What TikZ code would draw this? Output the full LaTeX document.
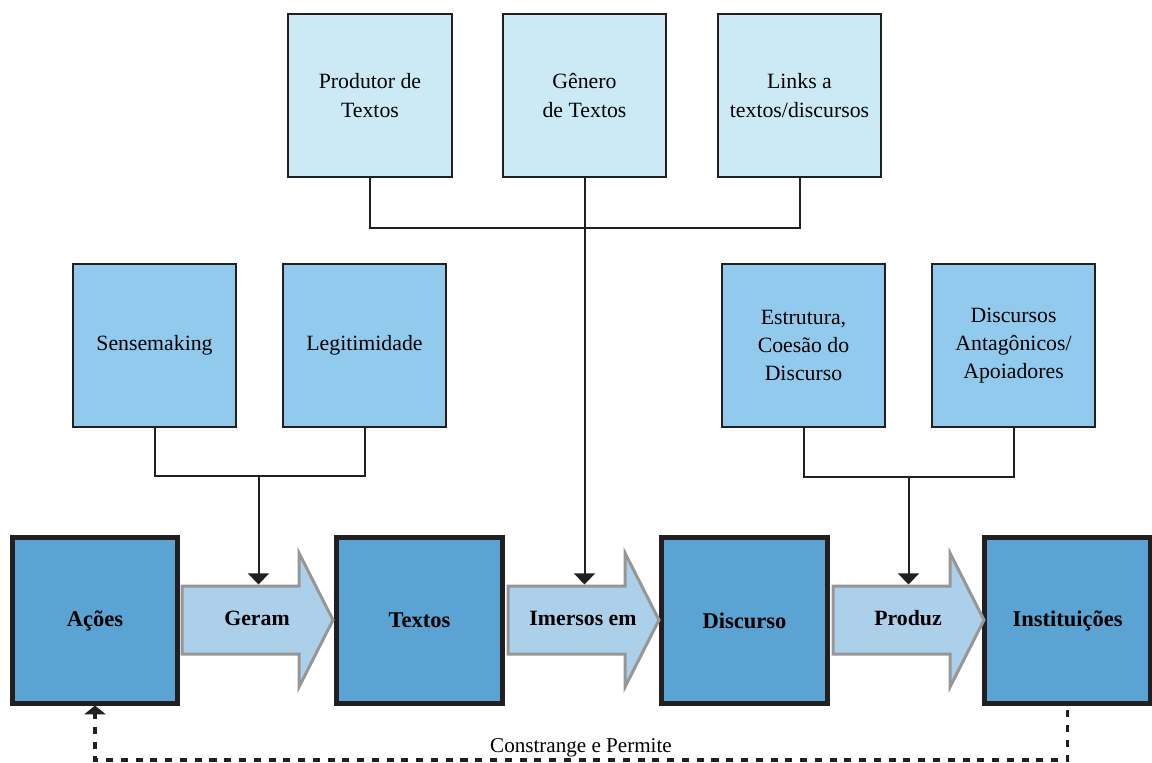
\documentclass[tikz,border=0pt]{standalone}
\usepackage{fontspec}
\setmainfont{Liberation Serif}
\usetikzlibrary{arrows.meta, positioning}
\definecolor{boxdark}{HTML}{5BA3D3}
\definecolor{boxmid}{HTML}{92CAEE}
\definecolor{boxlight}{HTML}{CCEAF5}
\definecolor{arrowfill}{HTML}{ACD0E9}
\definecolor{arrowline}{HTML}{969696}
\definecolor{ink}{HTML}{231F20}
\tikzset{%
	main box/.style={
		draw=ink,
		fill=boxdark,
		line width=0.125cm,
		minimum size=4.125cm,
		font=\fontsize{16}{19}\selectfont\bfseries
	},
	top box/.style={
		draw=ink,
		fill=boxlight,
		line width=0.05cm,
		minimum size=4.075cm,
		align=center,
		font=\fontsize{15.5}{20}\selectfont
	},
	side box/.style={
		top box,
		fill=boxmid
	},
	flow arrow/.style={
		draw=arrowline,
		fill=arrowfill,
		line width=0.075cm,
		line join=miter
	},
	flow label/.style={
		anchor=base,
		inner sep=0pt,
		font=\fontsize{15.5}{19}\selectfont\bfseries
	},
}
\begin{document}
\begin{tikzpicture}[
	x=0.025cm, y=-0.025cm,
	link/.style={draw=ink, line width=0.05cm},
	feed/.style={link, -{Triangle[width=0.525cm, length=0.28cm]}},
	feedback/.style={draw=ink, line width=0.08cm, dash pattern=on 5pt off 5.5pt,
		-{Triangle[width=0.525cm, length=0.22cm]}}
	]
	\useasboundingbox (0,0) rectangle (1152,763);

	% main chain
	\node[main box] (acoes) at (95,620.5) {Ações};
	\node[main box] (textos) at (419.5,620.5) {Textos};
	\node[main box] (discurso) at (744.5,620.5) {Discurso};
	\node[main box] (instituicoes) at (1067.5,620.5) {Instituições};

	% block arrows between the boxes
	\foreach \x/\name/\txt in {182/geram/Geram, 508/imersos/Imersos em, 833/produz/Produz}{
		\draw[flow arrow] (\x,586) -- ++(117,0) -- ++(0,-33) -- ++(34,67)
			-- ++(-34,67) -- ++(0,-33) -- ++(-117,0) -- cycle;
		\node[flow label] (\name) at (\x+75,625) {\txt};
	}

	% text features
	\node[top box] (produtor) at (370,95.5) {Produtor de\\Textos};
	\node[top box] (genero) at (584.5,95.5) {Gênero\\de Textos};
	\node[top box] (links) at (799.5,95.5) {Links a\\textos/discursos};

	% side features
	\node[side box] (sense) at (154.5,345.5) {Sensemaking};
	\node[side box] (legit) at (364.5,345.5) {Legitimidade};
	\node[side box] (estrutura) at (803.5,345.5) {Estrutura,\\Coesão do\\Discurso};
	\node[side box] (antag) at (1013.5,345.5) {Discursos\\Antagônicos/\\Apoiadores};

	% connectors
	\coordinate (joinA) at (258.5,476);
	\coordinate (joinB) at (584.5,228);
	\coordinate (joinC) at (908.5,477);
	\coordinate (geramtop) at (258.5,584.5);
	\coordinate (imersostop) at (584.5,584.5);
	\coordinate (produztop) at (908.5,584.5);

	\draw[link] (sense.south) |- (joinA) -| (legit.south);
	\draw[feed] (joinA) -- (geramtop);
	\draw[link] (produtor.south) |- (joinB) -| (links.south);
	\draw[feed] (genero.south) -- (imersostop);
	\draw[link] (estrutura.south) |- (joinC) -| (antag.south);
	\draw[feed] (joinC) -- (produztop);

	% feedback loop
	\coordinate (loop) at (581,760);
	\draw[feedback, shorten <=0.12cm] (instituicoes.south) |- (loop) -| (acoes.south);
	\node[anchor=base, font=\fontsize{15}{18}\selectfont] (loopnote) at (581,752) {Constrange e Permite};
\end{tikzpicture}
\end{document}
